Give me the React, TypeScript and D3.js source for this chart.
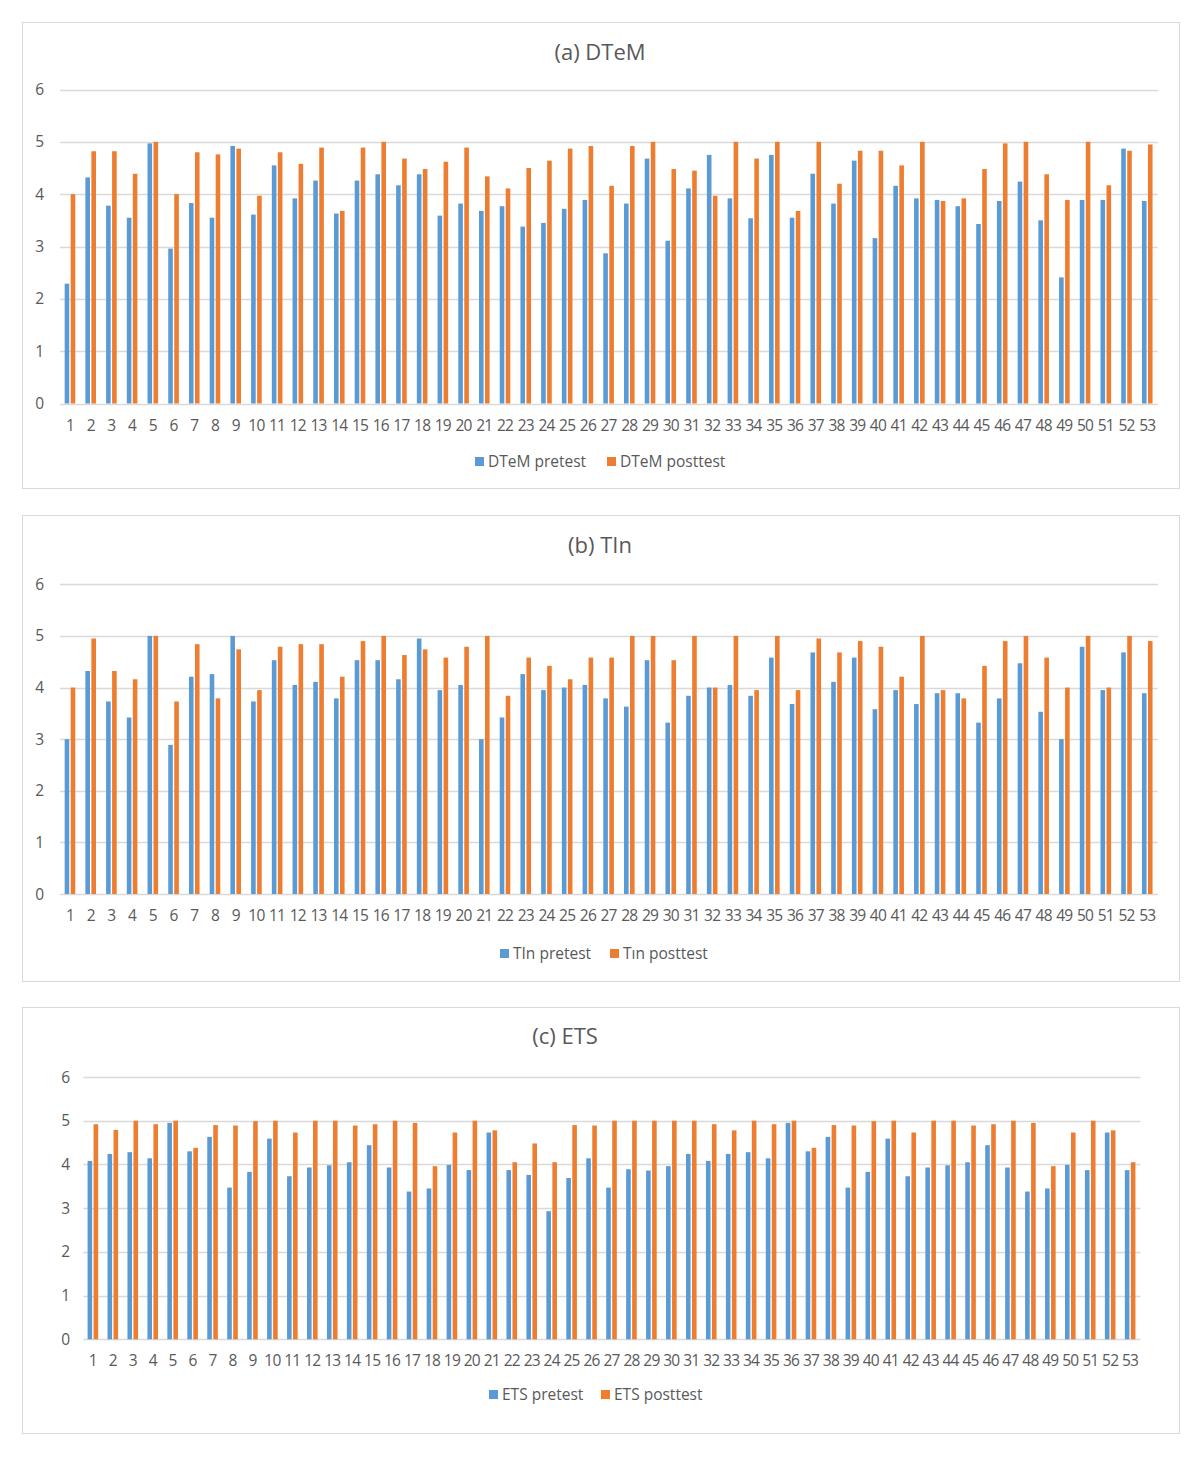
import React from "react";
import * as d3 from "d3";

const categories: string[] = Array.from({ length: 53 }, (_, i) => String(i + 1));
const yTicks: number[] = [0, 1, 2, 3, 4, 5, 6];

const dtemPre: number[] = [
  2.29, 4.32, 3.78, 3.55, 4.97, 2.96, 3.83, 3.55, 4.92, 3.61,
  4.55, 3.92, 4.26, 3.63, 4.26, 4.38, 4.17, 4.38, 3.59, 3.82,
  3.68, 3.77, 3.38, 3.45, 3.72, 3.89, 2.87, 3.82, 4.68, 3.11,
  4.11, 4.75, 3.92, 3.54, 4.75, 3.55, 4.39, 3.82, 4.64, 3.16,
  4.16, 3.92, 3.89, 3.77, 3.43, 3.87, 4.24, 3.5, 2.41, 3.89,
  3.89, 4.87, 3.87,
];
const dtemPost: number[] = [
  4.0, 4.82, 4.82, 4.39, 5.0, 4.0, 4.8, 4.76, 4.87, 3.97,
  4.8, 4.58, 4.89, 3.68, 4.89, 5.0, 4.68, 4.48, 4.62, 4.89,
  4.34, 4.11, 4.5, 4.64, 4.87, 4.92, 4.16, 4.92, 5.0, 4.48,
  4.45, 3.97, 5.0, 4.68, 5.0, 3.68, 5.0, 4.2, 4.83, 4.83,
  4.55, 5.0, 3.87, 3.92, 4.48, 4.97, 5.0, 4.38, 3.89, 5.0,
  4.17, 4.83, 4.95,
];

const tinPre: number[] = [
  3.0, 4.32, 3.73, 3.42, 5.0, 2.89, 4.21, 4.26, 5.0, 3.73,
  4.53, 4.05, 4.11, 3.79, 4.53, 4.53, 4.16, 4.95, 3.95, 4.05,
  3.0, 3.42, 4.26, 3.95, 4.0, 4.05, 3.79, 3.63, 4.53, 3.32,
  3.84, 4.0, 4.05, 3.84, 4.58, 3.68, 4.68, 4.11, 4.58, 3.58,
  3.95, 3.68, 3.89, 3.89, 3.32, 3.79, 4.47, 3.53, 3.0, 4.79,
  3.95, 4.68, 3.89,
];
const tinPost: number[] = [
  4.0, 4.95, 4.32, 4.16, 5.0, 3.73, 4.84, 3.79, 4.74, 3.95,
  4.79, 4.84, 4.84, 4.21, 4.9, 5.0, 4.63, 4.74, 4.58, 4.79,
  5.0, 3.84, 4.58, 4.42, 4.16, 4.58, 4.58, 5.0, 5.0, 4.53,
  5.0, 4.0, 5.0, 3.95, 5.0, 3.95, 4.95, 4.68, 4.9, 4.79,
  4.21, 5.0, 3.95, 3.79, 4.42, 4.9, 5.0, 4.58, 4.0, 5.0,
  4.0, 5.0, 4.9,
];

const etsPre: number[] = [
  4.08, 4.24, 4.28, 4.14, 4.95, 4.3, 4.63, 3.47, 3.83, 4.59,
  3.73, 3.93, 3.98, 4.05, 4.44, 3.93, 3.38, 3.45, 3.99, 3.87,
  4.73, 3.87, 3.76, 2.93, 3.69, 4.14, 3.47, 3.89, 3.86, 3.96,
  4.24, 4.08, 4.24, 4.28, 4.14, 4.95, 4.3, 4.63, 3.47, 3.83,
  4.59, 3.73, 3.93, 3.98, 4.05, 4.44, 3.93, 3.38, 3.45, 3.99,
  3.87, 4.73, 3.87,
];
const etsPost: number[] = [
  4.92, 4.79, 5.0, 4.92, 5.0, 4.38, 4.9, 4.89, 4.99, 5.0,
  4.73, 5.0, 5.0, 4.89, 4.92, 5.0, 4.95, 3.96, 4.73, 5.0,
  4.78, 4.05, 4.48, 4.05, 4.9, 4.89, 5.0, 5.0, 5.0, 5.0,
  5.0, 4.92, 4.78, 5.0, 4.92, 5.0, 4.38, 4.9, 4.89, 4.99,
  5.0, 4.73, 5.0, 5.0, 4.89, 4.92, 5.0, 4.95, 3.96, 4.73,
  5.0, 4.78, 4.05,
];

const BLUE = "#5B9BD5";
const ORANGE = "#ED7D31";
const TEXT = "#595959";
const GRID = "#D9D9D9";
const FONT = "'Open Sans', 'Noto Sans', sans-serif";

type PanelProps = {
  title: string;
  pre: number[];
  post: number[];
  preName: string;
  postName: string;
  box: { x: number; y: number; w: number; h: number };
  plot: { x0: number; x1: number; yTop: number; yBottom: number };
  yLabelX: number;
  xLabelY: number;
  titleX: number;
  titleY: number;
  legendY: number;
  legendX: [number, number];
};

function Panel(p: PanelProps) {
  const x = d3.scaleBand<string>().domain(categories).range([p.plot.x0, p.plot.x1]).padding(0);
  const y = d3.scaleLinear().domain([0, 6]).range([p.plot.yBottom, p.plot.yTop]);
  const bw = 4.6;
  const gap = 1.4;
  return (
    <g>
      <rect x={p.box.x + 0.5} y={p.box.y + 0.5} width={p.box.w} height={p.box.h} fill="#fff" stroke={GRID} strokeWidth={1} />
      <text x={p.titleX} y={p.titleY} textAnchor="middle" fontSize={22} fill={TEXT} fontFamily={FONT}>
        {p.title}
      </text>
      {yTicks.map((t) => (
        <g key={t}>
          <line x1={p.plot.x0} x2={p.plot.x1} y1={Math.round(y(t)) + 0.5} y2={Math.round(y(t)) + 0.5} stroke={GRID} strokeWidth={1.3} />
          <text x={p.yLabelX} y={y(t) + 5.5} textAnchor="end" fontSize={15.5} fill={TEXT} fontFamily={FONT}>
            {t}
          </text>
        </g>
      ))}
      {categories.map((c, i) => {
        const cx = (x(c) as number) + x.bandwidth() / 2 - 0.4;
        return (
          <g key={c}>
            <rect x={cx - gap / 2 - bw} y={y(p.pre[i])} width={bw} height={y(0) - y(p.pre[i])} fill={BLUE} />
            <rect x={cx + gap / 2} y={y(p.post[i])} width={bw} height={y(0) - y(p.post[i])} fill={ORANGE} />
            <text x={cx} y={p.xLabelY} textAnchor="middle" fontSize={15.5} fill={TEXT} fontFamily={FONT} letterSpacing={-0.8}>
              {c}
            </text>
          </g>
        );
      })}
      <rect x={p.legendX[0]} y={p.legendY - 10} width={9} height={9} fill={BLUE} />
      <text x={p.legendX[0] + 13} y={p.legendY} fontSize={15.5} fill={TEXT} fontFamily={FONT}>
        {p.preName}
      </text>
      <rect x={p.legendX[1]} y={p.legendY - 10} width={9} height={9} fill={ORANGE} />
      <text x={p.legendX[1] + 13} y={p.legendY} fontSize={15.5} fill={TEXT} fontFamily={FONT}>
        {p.postName}
      </text>
    </g>
  );
}

export default function App() {
  return (
    <div style={{ position: "absolute", left: 0, top: 0 }}>
      <svg width={1200} height={1458} style={{ display: "block" }}>
        <rect width={1200} height={1458} fill="#fff" />
        <Panel
          title="(a) DTeM"
          pre={dtemPre}
          post={dtemPost}
          preName="DTeM pretest"
          postName="DTeM posttest"
          box={{ x: 22, y: 22, w: 1157, h: 466 }}
          plot={{ x0: 60, x1: 1158, yTop: 89.5, yBottom: 403.5 }}
          yLabelX={44}
          xLabelY={431}
          titleX={600}
          titleY={60}
          legendY={467}
          legendX={[475, 607]}
        />
        <Panel
          title="(b) TIn"
          pre={tinPre}
          post={tinPost}
          preName="TIn pretest"
          postName="Tın posttest"
          box={{ x: 22, y: 515, w: 1157, h: 466 }}
          plot={{ x0: 60, x1: 1158, yTop: 584.3, yBottom: 894 }}
          yLabelX={44}
          xLabelY={921}
          titleX={600}
          titleY={553}
          legendY={959}
          legendX={[500, 610]}
        />
        <Panel
          title="(c) ETS"
          pre={etsPre}
          post={etsPost}
          preName="ETS pretest"
          postName="ETS posttest"
          box={{ x: 22, y: 1007, w: 1157, h: 426 }}
          plot={{ x0: 83.3, x1: 1140.5, yTop: 1077, yBottom: 1339.3 }}
          yLabelX={70}
          xLabelY={1366}
          titleX={565}
          titleY={1044}
          legendY={1400}
          legendX={[489, 601]}
        />
      </svg>
    </div>
  );
}
